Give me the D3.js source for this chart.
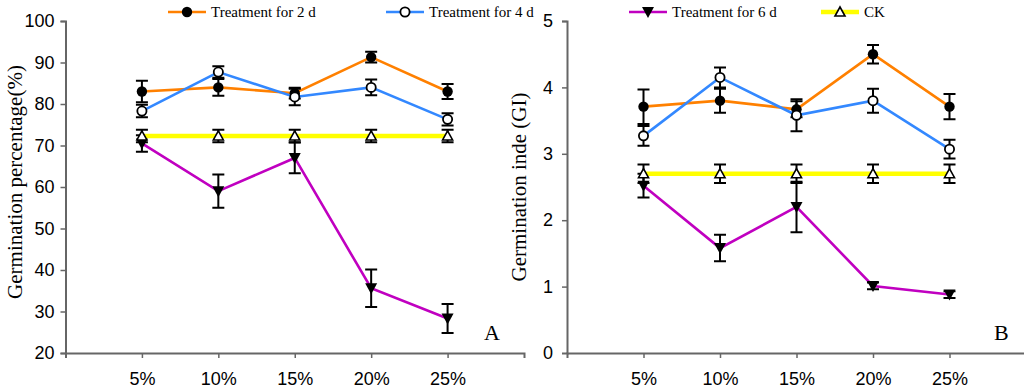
<!DOCTYPE html>
<html>
<head>
<meta charset="utf-8">
<script src="https://cdn.jsdelivr.net/npm/d3@7"></script>
<style>
  body { margin: 0; background: #fff; }
  svg { display: block; }
</style>
</head>
<body>
<script>
// categories (salt concentration)
var categories = ["5%", "10%", "15%", "20%", "25%"];
var seriesNames = ["Treatment for 2 d", "Treatment for 4 d", "Treatment for 6 d", "CK"];

// panel A: germination percentage
var gp2d = [83, 84, 82.6, 91.3, 83];
var gp2dErr = [2.6, 2, 1.3, 1.3, 1.8];
var gp4d = [78.3, 87.7, 81.7, 84, 76.3];
var gp4dErr = [1.5, 1.4, 2, 1.9, 1.5];
var gp6d = [70.5, 59, 67, 35.6, 28.3];
var gp6dErr = [2, 4, 3.7, 4.5, 3.5];
var gpCK = [72.3, 72.3, 72.3, 72.3, 72.3];
var gpCKErr = [1.5, 1.5, 1.5, 1.5, 1.5];
var gpTicks = [20, 30, 40, 50, 60, 70, 80, 90, 100];

// panel B: germination index
var gi2d = [3.71, 3.8, 3.67, 4.5, 3.71];
var gi2dErr = [0.26, 0.18, 0.12, 0.14, 0.19];
var gi4d = [3.27, 4.15, 3.58, 3.8, 3.07];
var gi4dErr = [0.15, 0.15, 0.24, 0.18, 0.14];
var gi6d = [2.52, 1.58, 2.2, 1.01, 0.88];
var gi6dErr = [0.18, 0.2, 0.38, 0.05, 0.05];
var giCK = [2.7, 2.7, 2.7, 2.7, 2.7];
var giCKErr = [0.14, 0.14, 0.14, 0.14, 0.14];
var giTicks = [0, 1, 2, 3, 4, 5];

var colors = ["#ff8000", "#3388ff", "#c000c0", "#ffff00"];
var symbols = ["dot", "ring", "down", "up"];

var width = 1024, height = 391;

var svg = d3.select("body")
    .append("svg")
    .attr("width", width)
    .attr("height", height);

// draw a marker of the given kind at (x,y)
function marker(g, kind, x, y) {
    if (kind == "dot") {
        g.append("circle").attr("cx", x).attr("cy", y).attr("r", 5.2)
            .style("fill", "#000");
    } else if (kind == "ring") {
        g.append("circle").attr("cx", x).attr("cy", y).attr("r", 4.6)
            .style("fill", "#fff").style("stroke", "#000").style("stroke-width", 1.8);
    } else if (kind == "down") {
        g.append("path")
            .attr("d", "M" + (x - 6) + "," + (y - 5) + "L" + (x + 6) + "," + (y - 5) + "L" + x + "," + (y + 6) + "Z")
            .style("fill", "#000");
    } else {
        g.append("path")
            .attr("d", "M" + (x - 5) + "," + (y + 4) + "L" + (x + 5) + "," + (y + 4) + "L" + x + "," + (y - 5) + "Z")
            .style("fill", "#fff").style("stroke", "#000").style("stroke-width", 1.6);
    }
}

function panel(opts) {
    var x = d3.scaleLinear().domain([0, 6]).range([opts.left, opts.right]);
    var y = d3.scaleLinear().domain(opts.domain).range([353, 21]);
    var g = svg.append("g");

    // y axis
    var yAxis = g.append("g")
        .attr("transform", "translate(" + opts.left + ",0)")
        .call(d3.axisLeft(y).tickValues(opts.ticks).tickFormat(d3.format("d"))
            .tickSize(5).tickPadding(opts.pad));
    // x axis
    var xAxis = g.append("g")
        .attr("transform", "translate(0,353)")
        .call(d3.axisBottom(x).tickValues([1, 2, 3, 4, 5])
            .tickFormat(function(d) { return categories[d - 1]; })
            .tickSize(5).tickPadding(14));
    [yAxis, xAxis].forEach(function(a) {
        a.select(".domain").style("stroke", "#666").style("stroke-width", 2);
        a.selectAll(".tick line").style("stroke", "#666").style("stroke-width", 1.5);
        a.selectAll("text")
            .style("font-family", "'Liberation Sans', Arial, sans-serif")
            .style("font-size", "18px")
            .style("fill", "#000");
    });
    yAxis.selectAll(".tick line").filter(function(d) { return d == opts.domain[0] && opts.noZeroTick; }).remove();

    // y label
    g.append("text")
        .attr("transform", "translate(" + opts.labelX + "," + opts.labelY + ") rotate(-90)")
        .attr("text-anchor", "middle")
        .style("font-family", "'Liberation Serif', 'Times New Roman', serif")
        .style("font-size", "21px")
        .text(opts.label);

    // panel letter
    g.append("text")
        .attr("x", opts.letterX).attr("y", 340)
        .style("font-family", "'Liberation Serif', 'Times New Roman', serif")
        .style("font-size", "22px")
        .text(opts.letter);

    var line = d3.line()
        .x(function(d, i) { return x(i + 1); })
        .y(function(d) { return y(d); });

    opts.series.forEach(function(s, k) {
        var sg = g.append("g");
        sg.append("path")
            .datum(s.values)
            .attr("d", line)
            .style("fill", "none")
            .style("stroke", colors[k])
            .style("stroke-width", k == 3 ? 4.5 : 2.6);
        s.values.forEach(function(v, i) {
            var cx = x(i + 1), lo = y(v - s.err[i]), hi = y(v + s.err[i]);
            sg.append("path")
                .attr("d", "M" + cx + "," + lo + "L" + cx + "," + hi +
                    "M" + (cx - 6) + "," + lo + "L" + (cx + 6) + "," + lo +
                    "M" + (cx - 6) + "," + hi + "L" + (cx + 6) + "," + hi)
                .style("fill", "none")
                .style("stroke", "#000")
                .style("stroke-width", 2);
            marker(sg, symbols[k], cx, y(v));
        });
    });
}

panel({
    left: 65.5, right: 524, domain: [20, 100], ticks: gpTicks, pad: 6,
    label: "Germination percentage(%)", labelX: 22, labelY: 182,
    letter: "A", letterX: 484,
    series: [
        { values: gp2d, err: gp2dErr },
        { values: gp4d, err: gp4dErr },
        { values: gp6d, err: gp6dErr },
        { values: gpCK, err: gpCKErr }
    ]
});

panel({
    left: 567, right: 1026, domain: [0, 5], ticks: giTicks, noZeroTick: true, pad: 9,
    label: "Germination inde (GI)", labelX: 526, labelY: 187,
    letter: "B", letterX: 994,
    series: [
        { values: gi2d, err: gi2dErr },
        { values: gi4d, err: gi4dErr },
        { values: gi6d, err: gi6dErr },
        { values: giCK, err: giCKErr }
    ]
});

// legend along the top
var legendX = [168, 386, 629, 821];
seriesNames.forEach(function(name, k) {
    var lg = svg.append("g");
    var x0 = legendX[k];
    lg.append("line")
        .attr("x1", x0).attr("x2", x0 + 38)
        .attr("y1", 12).attr("y2", 12)
        .style("stroke", colors[k])
        .style("stroke-width", k == 3 ? 4.5 : 2.6);
    marker(lg, symbols[k], x0 + 19, 12);
    lg.append("text")
        .attr("x", x0 + 43).attr("y", 17)
        .style("font-family", "'Liberation Serif', 'Times New Roman', serif")
        .style("font-size", "15px")
        .text(name);
});
</script>
</body>
</html>
